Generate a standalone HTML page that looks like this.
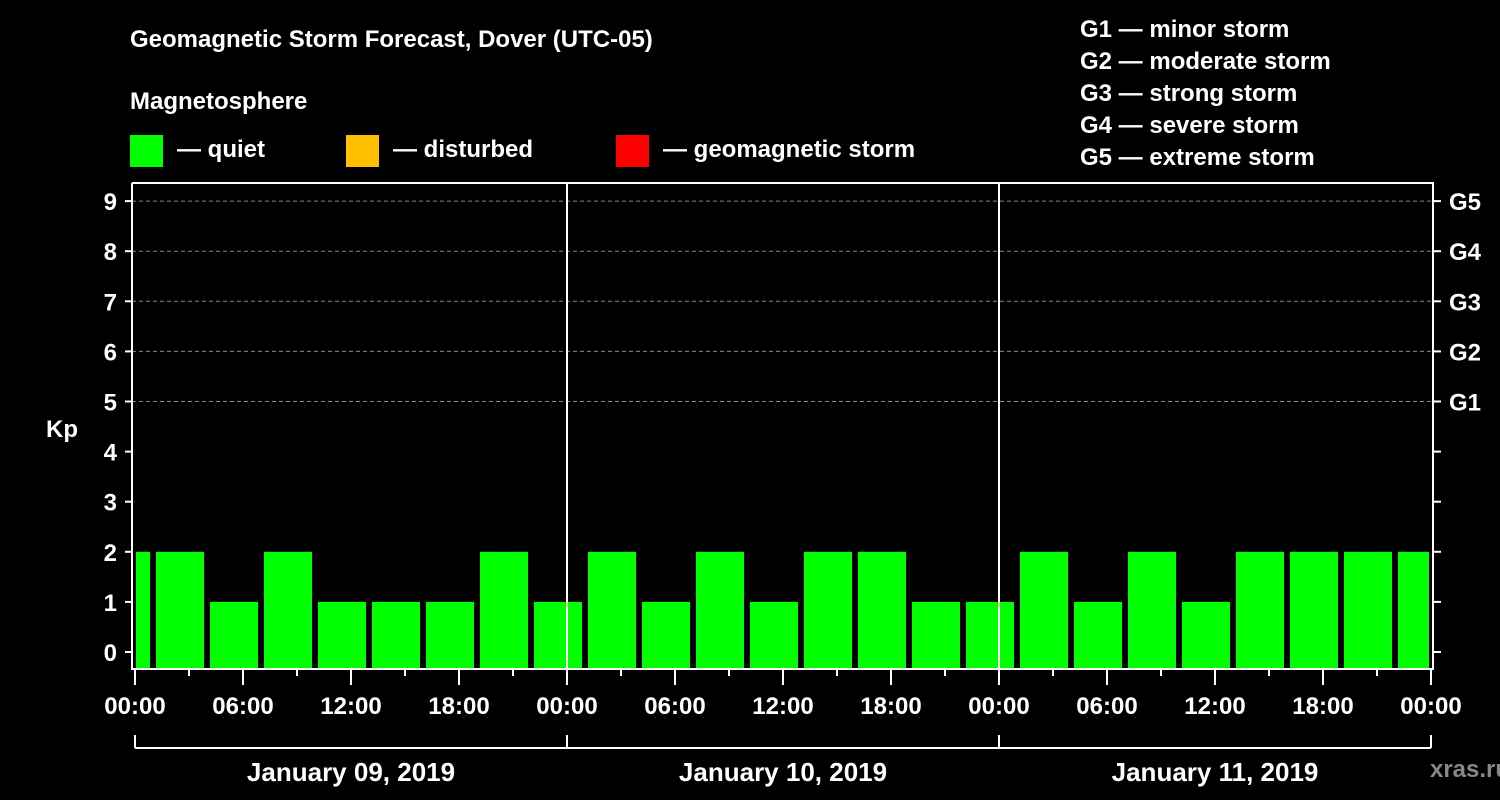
<!DOCTYPE html>
<html><head><meta charset="utf-8"><style>
html,body{margin:0;padding:0;background:#000;}
svg{display:block;font-family:"Liberation Sans",Arial,sans-serif;font-weight:bold;}
</style></head><body>
<svg width="1500" height="800" viewBox="0 0 1500 800">
<rect width="1500" height="800" fill="#000"/>
<text x="130" y="47" fill="#fff" font-size="24">Geomagnetic Storm Forecast, Dover (UTC-05)</text>
<text x="130" y="109" fill="#fff" font-size="24">Magnetosphere</text>
<g><rect x="130" y="135" width="33" height="32" fill="#00ff00"/><text x="177" y="157" fill="#fff" font-size="24">— quiet</text></g>
<g><rect x="346" y="135" width="33" height="32" fill="#ffc000"/><text x="393" y="157" fill="#fff" font-size="24">— disturbed</text></g>
<g><rect x="616" y="135" width="33" height="32" fill="#ff0000"/><text x="663" y="157" fill="#fff" font-size="24">— geomagnetic storm</text></g>
<g fill="#fff" font-size="24">
<text x="1080" y="37">G1 — minor storm</text>
<text x="1080" y="69">G2 — moderate storm</text>
<text x="1080" y="101">G3 — strong storm</text>
<text x="1080" y="133">G4 — severe storm</text>
<text x="1080" y="165">G5 — extreme storm</text>
</g>
<g id="plot"></g>
<text x="62" y="437" fill="#fff" font-size="24" text-anchor="middle">Kp</text>
<text x="1470" y="777" fill="#888" font-size="24" text-anchor="middle">xras.ru</text>
</svg>
<script>
const kpValues=[2,2,1,2,1,1,1,2,1,2,1,2,1,2,2,1,1,2,1,2,1,2,2,2,2];
const startHour=-2;
const dayLabels=["January 09, 2019","January 10, 2019","January 11, 2019"];
const yTicks=[0,1,2,3,4,5,6,7,8,9];
const gLabels=["G1","G2","G3","G4","G5"];
const hourLabels=["00:00","06:00","12:00","18:00"];

const NS="http://www.w3.org/2000/svg";
const plot=document.getElementById('plot');
const X0=135,PXH=18,L=132,R=1433,T=183,B=669;
const xs=h=>X0+h*PXH;
const ys=v=>652-v*50.1;
function mk(tag,attrs,parent){const e=document.createElementNS(NS,tag);for(const k in attrs)e.setAttribute(k,attrs[k]);(parent||plot).appendChild(e);return e;}
// gridlines
for(let v=5;v<=9;v++){
 const g=mk('line',{x1:L,x2:R,y1:ys(v),y2:ys(v),stroke:'#888','stroke-dasharray':'4,3','stroke-width':1});
 
 
}
// bars
kpValues.forEach((v,i)=>{
 const s=startHour+i*3;
 let x1=Math.max(xs(s)+3,L+4), x2=Math.min(xs(s+3)-3,R-4);
 const r=mk('rect',{x:x1,y:ys(v),width:x2-x1,height:B-ys(v),fill:v>=5?'#ff0000':(v>=4?'#ffc000':'#00ff00')});
 
 
});
// day separators
for(let d=1;d<dayLabels.length;d++){
 const l=mk('line',{x1:xs(24*d),x2:xs(24*d),y1:T,y2:B,stroke:'#fff','stroke-width':2});
 
 
}
// frame
const f=mk('path',{d:`M${L},${T} V${B} H${R} V${T} H${L}`,fill:'none',stroke:'#fff','stroke-width':2});


// y ticks
yTicks.forEach(v=>{
 const y=ys(v);
 mk('line',{x1:L-7,x2:L,y1:y,y2:y,stroke:'#fff','stroke-width':2});
 mk('line',{x1:R,x2:R+8,y1:y,y2:y,stroke:'#fff','stroke-width':2});
 const t=mk('text',{x:117,y:y+9,fill:'#fff','font-size':24,'text-anchor':'end'});
 t.textContent=v;
 
 
});
gLabels.forEach((g,i)=>{
 const t=mk('text',{x:1449,y:ys(5+i)+9,fill:'#fff','font-size':24});
 t.textContent=g;
 
 
});
// x ticks
for(let h=0;h<=24*dayLabels.length;h+=3){
 const x=xs(h),major=h%6===0;
 mk('line',{x1:x,x2:x,y1:B,y2:major?685:676,stroke:'#fff','stroke-width':2});
 if(major){
  const t=mk('text',{x:x,y:714,fill:'#fff','font-size':24,'text-anchor':'middle'});
  t.textContent=hourLabels[(h/6)%4];
  
  
 }
}
// day bracket
mk('line',{x1:xs(0),x2:xs(24*dayLabels.length),y1:748,y2:748,stroke:'#fff','stroke-width':2});
for(let d=0;d<=dayLabels.length;d++) mk('line',{x1:xs(24*d),x2:xs(24*d),y1:735,y2:748,stroke:'#fff','stroke-width':2});
dayLabels.forEach((s,d)=>{
 const t=mk('text',{x:xs(24*d+12),y:781,fill:'#fff','font-size':26,'text-anchor':'middle'});
 t.textContent=s;
 
 
});
</script>
</body></html>
